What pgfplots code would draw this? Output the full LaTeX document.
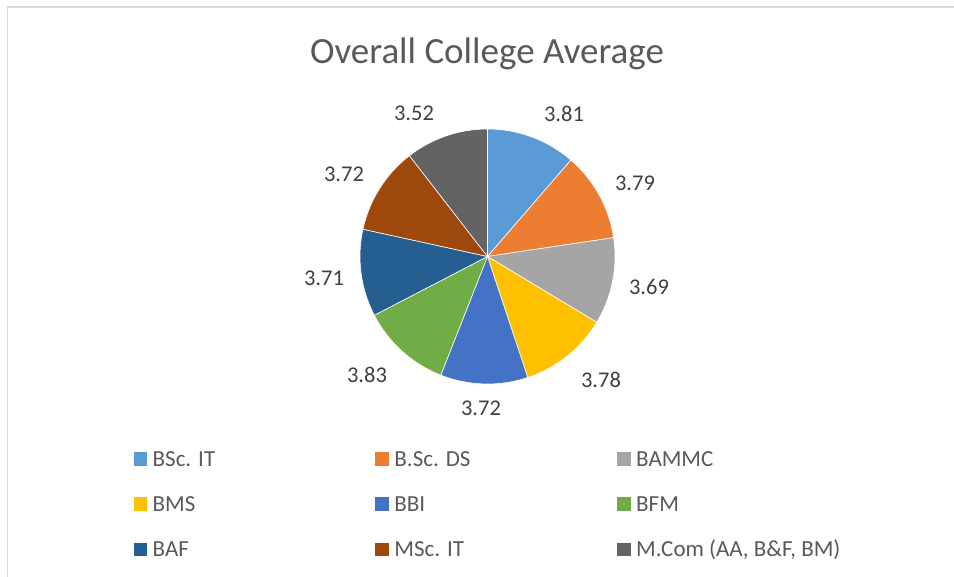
\documentclass[border=0pt]{standalone}
\usepackage{pgfplots}
\usepackage{pgfplotstable}
\pgfplotsset{compat=1.18}
\usepackage{fontspec}
\setmainfont{Carlito}

\definecolor{c1}{HTML}{5B9BD5}
\definecolor{c2}{HTML}{ED7D31}
\definecolor{c3}{HTML}{A5A5A5}
\definecolor{c4}{HTML}{FFC000}
\definecolor{c5}{HTML}{4472C4}
\definecolor{c6}{HTML}{70AD47}
\definecolor{c7}{HTML}{255E91}
\definecolor{c8}{HTML}{9E480E}
\definecolor{c9}{HTML}{636363}
\definecolor{titlec}{HTML}{595959}
\definecolor{lblc}{HTML}{404040}
\definecolor{legc}{HTML}{595959}
\definecolor{borderc}{HTML}{D9D9D9}

% value = data; lx, ly = label centre (layout, px from top-left)
\pgfplotstableread{
name value col lx ly
{BSc. IT} 3.81 c1 564 114
{B.Sc. DS} 3.79 c2 635 183
BAMMC 3.69 c3 649 287
BMS 3.78 c4 601 380
BBI 3.72 c5 481 408
BFM 3.83 c6 367 375
BAF 3.71 c7 324 278
{MSc. IT} 3.72 c8 344 174
{M.Com (AA, B\&F, BM)} 3.52 c9 414 113
}\piedata

% precompute angles
\def\tot{0}
\pgfplotsforeachungrouped \i in {0,...,8}{%
  \pgfplotstablegetelem{\i}{value}\of\piedata
  \pgfmathsetmacro\tot{\tot+\pgfplotsretval}%
}
\def\cum{0}
\pgfplotsforeachungrouped \i in {0,...,8}{%
  \pgfplotstablegetelem{\i}{value}\of\piedata
  \expandafter\global\expandafter\let\csname val\i\endcsname\pgfplotsretval
  \pgfmathsetmacro\sa{90-\cum*360/\tot}%
  \pgfmathsetmacro\cum{\cum+\pgfplotsretval}%
  \pgfmathsetmacro\ea{90-\cum*360/\tot}%
  \expandafter\xdef\csname sa\i\endcsname{\sa}%
  \expandafter\xdef\csname ea\i\endcsname{\ea}%
  \pgfplotstablegetelem{\i}{col}\of\piedata
  \expandafter\xdef\csname col\i\endcsname{\pgfplotsretval}%
  \pgfplotstablegetelem{\i}{name}\of\piedata
  \expandafter\global\expandafter\let\csname nm\i\endcsname\pgfplotsretval
  \pgfplotstablegetelem{\i}{lx}\of\piedata
  \expandafter\xdef\csname lx\i\endcsname{\pgfplotsretval}%
  \pgfplotstablegetelem{\i}{ly}\of\piedata
  \pgfmathsetmacro\tmpy{577-\pgfplotsretval}%
  \expandafter\xdef\csname ly\i\endcsname{\tmpy}%
  % legend placement: 3 columns x 3 rows
  \pgfmathsetmacro\colno{mod(\i,3)}%
  \pgfmathsetmacro\rowno{floor(\i/3)}%
  \pgfmathsetmacro\mx{133.5+241.75*\colno}%
  \pgfmathsetmacro\rc{459+45.25*\rowno}%
  \pgfmathsetmacro\my{577-\rc-6.75}%
  \pgfmathsetmacro\tx{\mx+19}%
  \pgfmathsetmacro\ty{577-\rc-7.3}%
  \expandafter\xdef\csname mx\i\endcsname{\mx}%
  \expandafter\xdef\csname my\i\endcsname{\my}%
  \expandafter\xdef\csname tx\i\endcsname{\tx}%
  \expandafter\xdef\csname ty\i\endcsname{\ty}%
}

\tikzset{
  lbl/.style={font=\fontsize{22.5bp}{26bp}\selectfont, text=lblc, inner sep=0pt},
  leg/.style={font=\fontsize{23bp}{26bp}\selectfont, text=legc, inner sep=0pt, anchor=base west},
}

\begin{document}
\begin{tikzpicture}
\path[use as bounding box] (0,0) rectangle (954bp,577bp);
\begin{axis}[
  x=1bp, y=1bp,
  xmin=0, xmax=954, ymin=0, ymax=577,
  hide axis, clip=false,
]
% chart border (cropped at right and bottom)
\draw[borderc, line width=1.5bp] (axis cs:7.5,0) -- (axis cs:7.5,570) -- (axis cs:960,570);
% title
\node[font=\fontsize{37bp}{40bp}\selectfont, text=titlec, anchor=base, inner sep=0pt]
  at (axis cs:487,513.5) {Overall College Average};
% slices
\pgfplotsinvokeforeach{0,...,8}{%
  \edef\tmp{\noexpand\fill[fill=\csname col#1\endcsname, draw=white, line width=0.6bp]
    (axis cs:487.5,320.5) -- ++(\csname sa#1\endcsname:127.5bp)
    arc[start angle=\csname sa#1\endcsname, end angle=\csname ea#1\endcsname, radius=127.5bp] -- cycle;}%
  \tmp
}
% data labels
\pgfplotsinvokeforeach{0,...,8}{%
  \edef\tmp{\noexpand\node[lbl] at (axis cs:\csname lx#1\endcsname,\csname ly#1\endcsname) {\noexpand\csname val#1\noexpand\endcsname};}%
  \tmp
}
% legend
\pgfplotsinvokeforeach{0,...,8}{%
  \edef\tmp{\noexpand\fill[fill=\csname col#1\endcsname] (axis cs:\csname mx#1\endcsname,\csname my#1\endcsname) rectangle ++(13.5bp,13.5bp);
    \noexpand\node[leg] at (axis cs:\csname tx#1\endcsname,\csname ty#1\endcsname) {\noexpand\csname nm#1\noexpand\endcsname};}%
  \tmp
}
\end{axis}
\end{tikzpicture}
\end{document}
